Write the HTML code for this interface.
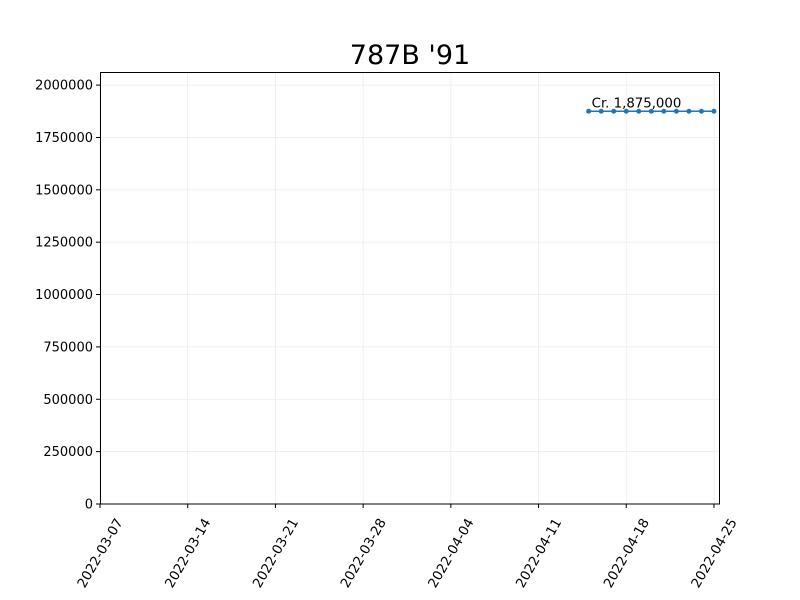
<!DOCTYPE html>
<html><head><meta charset="utf-8"><style>
body{margin:0;background:#fff;}
svg{display:block;font-family:"DejaVu Sans","Liberation Sans",sans-serif;}
</style></head><body>
<svg id="chart" width="800" height="600">
<rect width="800" height="600" fill="#fff"/>
<text x="410" y="64" text-anchor="middle" font-size="27" fill="#000">787B '91</text>
<g id="grid"></g><g id="axes"></g><g id="series"></g>
<rect x="100.5" y="72.5" width="619" height="431.5" fill="none" stroke="#000" stroke-width="1"/>
</svg>
<script>
const dates=["2022-04-15","2022-04-16","2022-04-17","2022-04-18","2022-04-19","2022-04-20","2022-04-21","2022-04-22","2022-04-23","2022-04-24","2022-04-25"];
const prices=[1875000,1875000,1875000,1875000,1875000,1875000,1875000,1875000,1875000,1875000,1875000];
const yTicks=[0,250000,500000,750000,1000000,1250000,1500000,1750000,2000000];
const xTicks=["2022-03-07","2022-03-14","2022-03-21","2022-03-28","2022-04-04","2022-04-11","2022-04-18","2022-04-25"];
const annotation="Cr. 1,875,000";
const NS="http://www.w3.org/2000/svg";
const L=100,R=720,T=72,B=504;
const d0=Date.parse("2022-03-07"),day=86400000,pxDay=12.53;
const yMax=2062500;
function xs(d){return L+(Date.parse(d)-d0)/day*pxDay;}
function ys(v){return B-v/yMax*(B-T);}
function mk(tag,attrs,parent){const e=document.createElementNS(NS,tag);for(const k in attrs)e.setAttribute(k,attrs[k]);parent.appendChild(e);return e;}
const grid=document.getElementById('grid'),axes=document.getElementById('axes'),ser=document.getElementById('series');
yTicks.forEach(v=>{const y=ys(v);
 const g=mk('line',{x1:L,x2:R,y1:y,y2:y,stroke:'#ebebeb','stroke-width':0.8},grid);
 
 
 const t=mk('line',{x1:L-4,x2:L,y1:y,y2:y,stroke:'#000'},axes);
 
 
 const l=mk('text',{x:L-7,y:y+4.5,'text-anchor':'end','font-size':13},axes);l.textContent=v;
 
 
});
xTicks.forEach(d=>{const x=xs(d);
 const g=mk('line',{x1:x,x2:x,y1:T,y2:B,stroke:'#ebebeb','stroke-width':0.8},grid);
 
 
 const t=mk('line',{x1:x,x2:x,y1:B,y2:B+4,stroke:'#000'},axes);
 
 
 const cy=B+49;
 const l=mk('text',{x:x,y:cy+4.5,'text-anchor':'middle','font-size':13.3,transform:`rotate(-60 ${x} ${cy})`},axes);l.textContent=d;
 
 
});
const pts=dates.map((d,i)=>xs(d)+','+ys(prices[i])).join(' ');
const pl=mk('polyline',{points:pts,fill:'none',stroke:'#1f77b4','stroke-width':1.5},ser);


dates.forEach((d,i)=>{const c=mk('circle',{cx:xs(d),cy:ys(prices[i]),r:2.5,fill:'#1f77b4'},ser);
 
 
});
const a=mk('text',{x:xs(dates[0])+3,y:ys(prices[0])-4,'font-size':13.3},ser);a.textContent=annotation;


</script>
</body></html>
